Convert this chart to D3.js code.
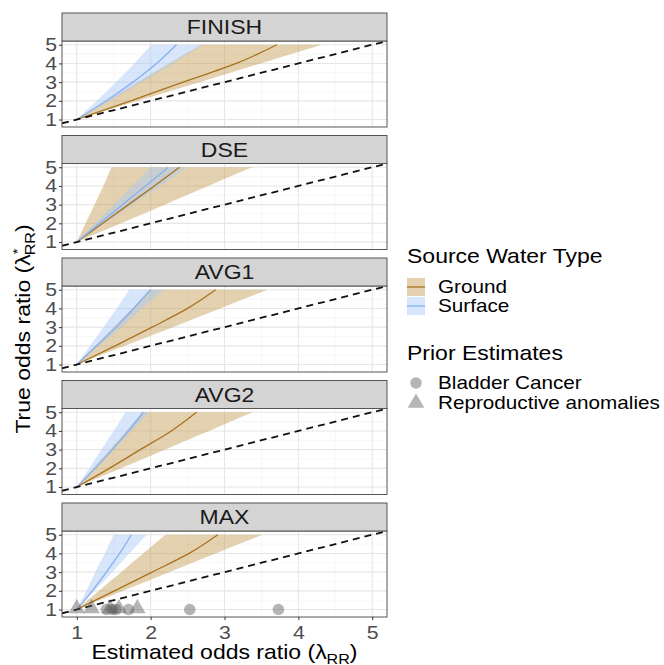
<!DOCTYPE html>
<html>
<head>
<meta charset="utf-8">
<script src="https://cdn.jsdelivr.net/npm/d3@7/dist/d3.min.js"></script>
<style>
  body { margin: 0; background: #fff; }
  svg { font-family: "Liberation Sans", Arial, sans-serif; }
</style>
</head>
<body>
<svg width="664" height="665"></svg>
<script>
// panels (facets) and the true odds ratio levels the curves are read at
const panels = ["FINISH", "DSE", "AVG1", "AVG2", "MAX"];
const trueOR = [1, 2, 3, 4, 5];

// estimated odds ratio at each true OR level, one row per panel
const groundLine = [
  [1, 1.73, 2.44, 3.16, 3.71],
  [1, 1.35, 1.70, 2.05, 2.39],
  [1, 1.52, 2.02, 2.50, 2.88],
  [1, 1.44, 1.86, 2.28, 2.62],
  [1, 1.51, 2.02, 2.52, 2.91]
];
const groundLo = [
  [1, 1.42, 1.82, 2.25, 2.68],
  [1, 1.12, 1.24, 1.36, 1.47],
  [1, 1.25, 1.50, 1.75, 2.00],
  [1, 1.22, 1.45, 1.67, 1.89],
  [1, 1.30, 1.60, 1.90, 2.20]
];
const groundHi = [
  [1, 1.83, 2.66, 3.49, 4.32],
  [1, 1.60, 2.19, 2.78, 3.37],
  [1, 1.65, 2.30, 2.94, 3.58],
  [1, 1.60, 2.19, 2.79, 3.38],
  [1, 1.63, 2.25, 2.88, 3.51]
];
const surfLine = [
  [1, 1.40, 1.76, 2.08, 2.35],
  [1, 1.31, 1.62, 1.93, 2.24],
  [1, 1.27, 1.53, 1.77, 2.00],
  [1, 1.25, 1.48, 1.70, 1.90],
  [1, 1.21, 1.40, 1.58, 1.74]
];
const surfLo = [
  [1, 1.27, 1.53, 1.78, 2.01],
  [1, 1.25, 1.50, 1.75, 2.00],
  [1, 1.18, 1.36, 1.54, 1.71],
  [1, 1.17, 1.33, 1.50, 1.66],
  [1, 1.13, 1.25, 1.38, 1.50]
];
const surfHi = [
  [1, 1.45, 1.88, 2.30, 2.70],
  [1, 1.38, 1.75, 2.13, 2.50],
  [1, 1.30, 1.60, 1.89, 2.18],
  [1, 1.25, 1.50, 1.74, 1.99],
  [1, 1.24, 1.48, 1.71, 1.95]
];

// prior estimates (shown in MAX panel at true OR = 1)
const bladderOR = [1.40, 1.48, 1.53, 1.70, 2.53, 3.73];
const reproOR = [1.00, 1.20, 1.45, 1.57, 1.82];

const xTicks = [1, 2, 3, 4, 5];
const yTicks = [1, 2, 3, 4, 5];

const waterTypes = ["Ground", "Surface"];
const priorTypes = ["Bladder Cancer", "Reproductive anomalies"];

const col = {
  Ground: { line: "#a8731f", fill: "#c09a50" },
  Surface: { line: "#87b0f0", fill: "#a7c8f7" }
};

const SX = 1.15; // the original's text is drawn a bit wide
const placeText = (sel, px, py, rot) =>
  sel.attr("transform", `translate(${px},${py})${rot ? ` rotate(${rot})` : ""} scale(${SX},1)`);

const svg = d3.select("svg");
const left = 62, right = 387;
const firstTop = 41, step = 122.5, plotH = 86, stripH = 28;

const x = d3.scaleLinear().domain([0.8, 5.2]).range([left, right]);

panels.forEach((name, i) => {
  const top = firstTop + i * step;
  const y = d3.scaleLinear().domain([0.6, 5.2]).range([top + plotH, top]);
  const g = svg.append("g");
  const clipId = "clip" + i;
  g.append("clipPath").attr("id", clipId)
    .append("rect").attr("x", left).attr("y", top).attr("width", right - left).attr("height", plotH);

  // grid
  const minorX = d3.range(1.5, 5, 1), minorY = d3.range(1.5, 5, 1);
  g.selectAll(".mnx").data(minorX).join("line")
    .attr("x1", d => x(d)).attr("x2", d => x(d)).attr("y1", top).attr("y2", top + plotH)
    .attr("stroke", "#f2f2f2").attr("stroke-width", 0.6);
  g.selectAll(".mny").data(minorY).join("line")
    .attr("y1", d => y(d)).attr("y2", d => y(d)).attr("x1", left).attr("x2", right)
    .attr("stroke", "#f2f2f2").attr("stroke-width", 0.6);
  g.selectAll(".mjx").data(xTicks).join("line")
    .attr("x1", d => x(d)).attr("x2", d => x(d)).attr("y1", top).attr("y2", top + plotH)
    .attr("stroke", "#e6e6e6").attr("stroke-width", 1.1);
  g.selectAll(".mjy").data(yTicks).join("line")
    .attr("y1", d => y(d)).attr("y2", d => y(d)).attr("x1", left).attr("x2", right)
    .attr("stroke", "#e6e6e6").attr("stroke-width", 1.1);

  const plot = g.append("g").attr("clip-path", `url(#${clipId})`);

  const area = d3.area()
    .y(d => y(d.t)).x0(d => x(d.lo)).x1(d => x(d.hi))
    .curve(d3.curveMonotoneY);
  const line = d3.line().x(d => x(d.v)).y(d => y(d.t)).curve(d3.curveMonotoneY);

  const series = [
    { key: "Ground", lo: groundLo[i], hi: groundHi[i], mid: groundLine[i] },
    { key: "Surface", lo: surfLo[i], hi: surfHi[i], mid: surfLine[i] }
  ];
  series.forEach(s => {
    plot.append("path")
      .attr("d", area(trueOR.map((t, k) => ({ t, lo: s.lo[k], hi: s.hi[k] }))))
      .attr("fill", col[s.key].fill).attr("fill-opacity", 0.45);
  });
  series.forEach(s => {
    plot.append("path")
      .attr("d", line(trueOR.map((t, k) => ({ t, v: s.mid[k] }))))
      .attr("fill", "none").attr("stroke", col[s.key].line).attr("stroke-width", 1.3);
  });

  // identity line
  plot.append("line")
    .attr("x1", x(0.8)).attr("y1", y(0.8)).attr("x2", x(5.2)).attr("y2", y(5.2))
    .attr("stroke", "#111").attr("stroke-width", 1.8).attr("stroke-dasharray", "7,5");

  if (name === "MAX") {
    plot.selectAll(".bc").data(bladderOR).join("circle")
      .attr("cx", d => x(d)).attr("cy", y(1)).attr("r", 5.8)
      .attr("fill", "#5a5a5a").attr("fill-opacity", 0.45);
    const tri = d3.symbol().type(d3.symbolTriangle).size(120);
    plot.selectAll(".ra").data(reproOR).join("path")
      .attr("d", tri).attr("transform", d => `translate(${x(d)},${y(1) - 1})`)
      .attr("fill", "#5a5a5a").attr("fill-opacity", 0.45);
  }

  // panel border
  g.append("rect").attr("x", left).attr("y", top).attr("width", right - left).attr("height", plotH)
    .attr("fill", "none").attr("stroke", "#555").attr("stroke-width", 1);

  // strip
  g.append("rect").attr("x", left).attr("y", top - stripH).attr("width", right - left).attr("height", stripH)
    .attr("fill", "#d4d4d4").attr("stroke", "#555").attr("stroke-width", 1);
  g.append("text").call(placeText, (left + right) / 2, top - stripH / 2)
    .attr("dy", "0.36em").attr("text-anchor", "middle")
    .attr("font-size", 20).attr("fill", "#1a1a1a").text(name);

  // y axis
  const ya = g.append("g").attr("transform", `translate(${left},0)`)
    .call(d3.axisLeft(y).tickValues(yTicks).tickSize(3).tickPadding(0).tickFormat(d3.format("d")));
  ya.select(".domain").remove();
  ya.selectAll(".tick line").attr("stroke", "#333");
  ya.selectAll(".tick text").attr("x", null)
    .attr("transform", `translate(-5,0) scale(${SX},1)`)
    .attr("font-size", 18.5).attr("fill", "#4d4d4d")
    .attr("font-family", "Liberation Sans, Arial, sans-serif");

  if (i === panels.length - 1) {
    const xa = g.append("g").attr("transform", `translate(0,${top + plotH})`)
      .call(d3.axisBottom(x).tickValues(xTicks).tickSize(3).tickPadding(0).tickFormat(d3.format("d")));
    xa.select(".domain").remove();
    xa.selectAll(".tick line").attr("stroke", "#333");
    xa.selectAll(".tick text").attr("y", null).attr("dy", "0.36em")
      .attr("transform", `translate(0,15) scale(${SX},1)`)
      .attr("font-size", 18.5).attr("fill", "#4d4d4d")
      .attr("font-family", "Liberation Sans, Arial, sans-serif");
  }
});

// axis titles
const xt = svg.append("text").call(placeText, (left + right) / 2, 659)
  .attr("text-anchor", "middle").attr("font-size", 20).attr("fill", "#000");
xt.append("tspan").text("Estimated odds ratio (\u03bb");
xt.append("tspan").attr("font-size", 14).attr("dy", 5).text("RR");
xt.append("tspan").attr("dy", -5).text(")");

const yt = svg.append("text").call(placeText, 30, (firstTop + firstTop + 4 * step + plotH) / 2, -90)
  .attr("text-anchor", "middle").attr("font-size", 20).attr("fill", "#000");
yt.append("tspan").text("True odds ratio (\u03bb");
yt.append("tspan").attr("font-size", 13).attr("dy", -8).text("*");
yt.append("tspan").attr("font-size", 14).attr("dx", -6).attr("dy", 13).text("RR");
yt.append("tspan").attr("dy", -5).text(")");

// legend
const lg = svg.append("g").attr("transform", "translate(407,0)");
lg.append("text").call(placeText, 0, 263).attr("font-size", 20).text("Source Water Type");
waterTypes.forEach((w, k) => {
  const ky = 278 + k * 19;
  lg.append("rect").attr("x", 0).attr("y", ky).attr("width", 18).attr("height", 18)
    .attr("fill", col[w].fill).attr("fill-opacity", 0.45);
  lg.append("line").attr("x1", 0).attr("x2", 18).attr("y1", ky + 9).attr("y2", ky + 9)
    .attr("stroke", col[w].line).attr("stroke-width", 1.3);
  lg.append("text").call(placeText, 31, ky + 9).attr("dy", "0.36em").attr("font-size", 18).text(w);
});
lg.append("text").call(placeText, 0, 360).attr("font-size", 20).text("Prior Estimates");
priorTypes.forEach((p, k) => {
  const ky = 383 + k * 20;
  if (k === 0) {
    lg.append("circle").attr("cx", 9).attr("cy", ky).attr("r", 5.8)
      .attr("fill", "#5a5a5a").attr("fill-opacity", 0.45);
  } else {
    lg.append("path").attr("d", d3.symbol().type(d3.symbolTriangle).size(120))
      .attr("transform", `translate(9,${ky})`).attr("fill", "#5a5a5a").attr("fill-opacity", 0.45);
  }
  lg.append("text").call(placeText, 31, ky).attr("dy", "0.36em").attr("font-size", 18).text(p);
});
</script>
</body>
</html>
